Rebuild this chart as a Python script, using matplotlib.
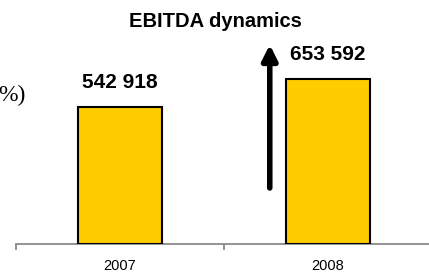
import matplotlib
matplotlib.use("Agg")
import matplotlib.pyplot as plt

years = ["2007", "2008"]
ebitda = [542918, 653592]
title = "EBITDA dynamics"
side_note = "%)"

W, H = 429, 272
fig = plt.figure(figsize=(W / 100, H / 100), dpi=100)
ax = fig.add_axes([16 / W, 28 / H, 416 / W, 244 / H])

x = list(range(len(years)))
ax.bar(x, ebitda, width=0.4, color="#FFCC00", edgecolor="black", linewidth=1.5, zorder=3)
ax.set_xlim(-0.5, 1.5)
ax.set_ylim(0, 967000)

for s in ["top", "right", "left"]:
    ax.spines[s].set_visible(False)
ax.spines["bottom"].set_color("#808080")
ax.spines["bottom"].set_linewidth(1.2)
ax.set_yticks([])

ax.set_xticks([-0.5, 0.5, 1.5])
ax.set_xticklabels([])
ax.tick_params(axis="x", which="major", length=4, color="#808080", width=1.2)
ax.set_xticks(x, minor=True)
ax.set_xticklabels(years, minor=True, fontsize=10.5, family="Liberation Sans")
ax.tick_params(axis="x", which="minor", length=0, pad=11)

for xi, v in zip(x, ebitda):
    ax.annotate(f"{v:,}".replace(",", " "), xy=(xi, v), xytext=(0, 13.7),
                textcoords="offset points", ha="center", va="baseline",
                fontsize=15, fontweight="bold", family="Liberation Sans")

# growth arrow
ax.annotate("", xy=(0.72, 790000), xytext=(0.72, 222000),
            arrowprops=dict(arrowstyle="-|>,head_width=0.45,head_length=0.9",
                            lw=4, color="black", capstyle="round",
                            shrinkA=0, shrinkB=0))

fig.text(215 / W, (H - 27.3) / H, title, ha="center", va="baseline",
         fontsize=14.5, fontweight="bold", family="Liberation Sans")
fig.text(26 / W, (H - 101) / H, side_note, ha="right", va="baseline",
         fontsize=17, family="Liberation Serif")

fig.savefig("out.png", dpi=100)
